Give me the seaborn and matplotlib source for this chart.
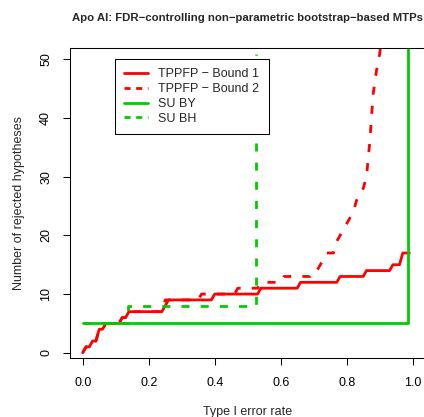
import matplotlib
matplotlib.use("Agg")
import matplotlib.pyplot as plt
from matplotlib.lines import Line2D
import pandas as pd
import seaborn as sns

# Number of rejected hypotheses as a function of the nominal Type I error rate
alpha_b1 = [0.00, 0.01, 0.02, 0.03, 0.04, 0.05, 0.06, 0.07, 0.11, 0.12, 0.13, 0.14,
            0.24, 0.25, 0.26, 0.39, 0.40, 0.53, 0.54, 0.65, 0.66, 0.77, 0.78,
            0.85, 0.86, 0.93, 0.94, 0.96, 0.97, 0.99]
nrej_b1 = [0, 1, 1, 2, 2, 4, 4, 5, 5, 6, 6, 7,
           7, 8, 9, 9, 10, 10, 11, 11, 12, 12, 13,
           13, 14, 14, 15, 15, 17, 17]

alpha_b2 = [0.00, 0.01, 0.02, 0.03, 0.04, 0.05, 0.06, 0.07, 0.11, 0.12, 0.13, 0.14,
            0.24, 0.25, 0.35, 0.36, 0.46, 0.47, 0.53, 0.54, 0.60, 0.61, 0.69,
            0.70, 0.71, 0.72, 0.73, 0.74, 0.76, 0.77, 0.78, 0.79, 0.80, 0.81,
            0.82, 0.83, 0.84, 0.85, 0.86, 0.87, 0.88, 0.89, 0.90, 0.91]
nrej_b2 = [0, 1, 1, 2, 2, 4, 4, 5, 5, 6, 6, 7,
           7, 9, 9, 10, 10, 11, 11, 12, 12, 13, 13,
           14, 14, 15, 16, 17, 17, 19, 20, 21, 22, 23,
           24, 26, 27, 28, 30, 36, 44, 48, 51, 56]

alpha_by = [0.000, 0.987, 0.987]
nrej_by = [5, 5, 200]

alpha_bh = [0.000, 0.138, 0.138, 0.524, 0.524]
nrej_bh = [5, 5, 8, 8, 51]

labels = ["TPPFP \u2212 Bound 1", "TPPFP \u2212 Bound 2", "SU BY", "SU BH"]
title = "Apo AI: FDR\u2212controlling non\u2212parametric bootstrap\u2212based MTPs"
x_ticks = [0.0, 0.2, 0.4, 0.6, 0.8, 1.0]
y_ticks = [0, 10, 20, 30, 40, 50]

sns.set_theme(style="ticks", rc={
    "axes.edgecolor": "black",
    "axes.linewidth": 0.75,
    "xtick.color": "black",
    "ytick.color": "black",
    "xtick.major.width": 0.75,
    "ytick.major.width": 0.75,
    "xtick.major.size": 5.0,
    "ytick.major.size": 5.0,
})
plt.rcParams["font.family"] = ["Liberation Sans", "DejaVu Sans"]

RED = "#FF0000"
GREEN = "#00CD00"
LW = 2.0
PLOT_DASH = (0, (2.9, 4.0))
KEY_DASH = (0, (2.2, 2.0))

W, H = 424, 417
fig = plt.figure(figsize=(W / 100, H / 100), dpi=100)
ax = fig.add_axes([69.5 / W, (H - 358.3) / H, 356.4 / W, 310.6 / H])

series = [
    (alpha_b1, nrej_b1, RED, "-"),
    (alpha_b2, nrej_b2, RED, PLOT_DASH),
    (alpha_by, nrej_by, GREEN, "-"),
    (alpha_bh, nrej_bh, GREEN, PLOT_DASH),
]
for a, n, color, ls in series:
    df = pd.DataFrame({"alpha": a, "nrej": n})
    sns.lineplot(data=df, x="alpha", y="nrej", ax=ax, estimator=None, sort=False,
                 color=color, linewidth=LW, linestyle=ls, legend=False,
                 solid_capstyle="round", dash_capstyle="butt")

ax.set_xlim(-0.04, 1.04)
ax.set_ylim(-0.95, 52.0)
ax.set_xticks(x_ticks)
ax.set_xticklabels([f"{t:.1f}" for t in x_ticks])
ax.set_yticks(y_ticks)
ax.set_yticklabels([str(t) for t in y_ticks], rotation=90, va="center")
ax.tick_params(axis="x", labelsize=9, pad=8.2)
ax.tick_params(axis="y", labelsize=9, pad=7.5)
for side in ["left", "right", "top", "bottom"]:
    ax.spines[side].set_visible(True)

ax.set_xlabel("Type I error rate", fontsize=9)
ax.set_ylabel("Number of rejected hypotheses", fontsize=9)
ax.xaxis.set_label_coords(0.5, -0.1536)
ax.yaxis.set_label_coords(-0.1235, 0.5)
ax.set_title(title, fontsize=8.2, fontweight="bold", pad=19.2)

handles = [
    Line2D([], [], color=RED, lw=LW, linestyle="-"),
    Line2D([], [], color=RED, lw=LW, linestyle=KEY_DASH),
    Line2D([], [], color=GREEN, lw=LW, linestyle="-"),
    Line2D([], [], color=GREEN, lw=LW, linestyle=KEY_DASH),
]
leg = ax.legend(handles, labels, loc="upper left",
                bbox_to_anchor=(115 / W, 1 - 59 / H), bbox_transform=fig.transFigure,
                borderaxespad=0, fontsize=9, frameon=True, fancybox=False,
                framealpha=1, edgecolor="black", handlelength=1.87,
                handletextpad=0.86, borderpad=0.75, labelspacing=0.22)
leg.get_frame().set_linewidth(0.75)

fig.savefig("out.png", dpi=100)
